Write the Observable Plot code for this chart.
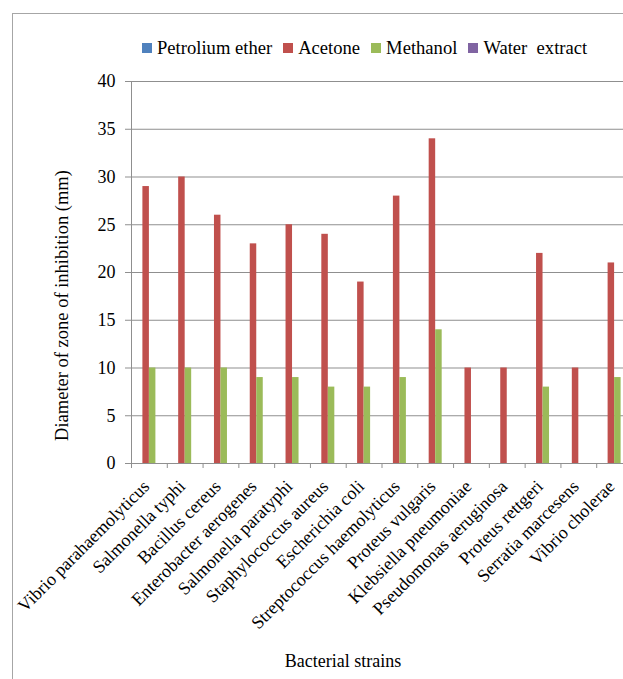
<!DOCTYPE html>
<html><head><meta charset="utf-8">
<script src="https://cdn.jsdelivr.net/npm/d3@7"></script>
<script src="https://cdn.jsdelivr.net/npm/@observablehq/plot@0.6"></script>
<style>
html,body{margin:0;padding:0;background:#fff;width:623px;height:679px;overflow:hidden;position:relative;}
#frame{position:absolute;left:12px;top:13px;width:800px;height:800px;border:1px solid #a6a6a6;}
#legend{position:absolute;left:142px;top:37px;display:flex;align-items:center;font-family:"Liberation Serif",serif;font-size:18.6px;color:#000;white-space:pre;}
.item{display:flex;align-items:center;margin-right:11px}
.sw{width:10px;height:10px;margin-right:5px}
#chart{position:absolute;left:0;top:0;width:680px}
#chart svg{max-width:none !important;}
#xtitle{position:absolute;left:0;width:686px;top:651px;text-align:center;font-family:"Liberation Serif",serif;font-size:18px;color:#000;}
</style></head><body>
<div id="frame"></div>
<div id="legend"></div>
<div id="chart"></div>
<div id="xtitle">Bacterial strains</div>
<script>
const strains = ["Vibrio parahaemolyticus","Salmonella typhi","Bacillus cereus","Enterobacter aerogenes","Salmonella paratyphi","Staphylococcus aureus","Escherichia coli","Streptococcus haemolyticus","Proteus vulgaris","Klebsiella pneumoniae","Pseudomonas aeruginosa","Proteus rettgeri","Serratia marcesens","Vibrio cholerae"];
const seriesNames = ["Petrolium ether","Acetone","Methanol","Water  extract"];
const petroleumEther = [0,0,0,0,0,0,0,0,0,0,0,0,0,0];
const acetone = [29,30,26,23,25,24,19,28,34,10,10,22,10,21];
const methanol = [10,10,10,9,9,8,8,9,14,0,0,8,0,9];
const waterExtract = [0,0,0,0,0,0,0,0,0,0,0,0,0,0];
const yTicks = [0,5,10,15,20,25,30,35,40];
const colors = ["#4F81BD","#C0504D","#9BBB59","#8064A2"];
const yLabel = "Diameter of zone of inhibition (mm)";

const values = [petroleumEther, acetone, methanol, waterExtract];

// legend
const leg = document.getElementById("legend");
seriesNames.forEach((s,i)=>{
  const it = document.createElement("div"); it.className="item";
  const sw = document.createElement("div"); sw.className="sw"; sw.style.background=colors[i];
  const tx = document.createElement("span"); tx.textContent = s;
  it.appendChild(sw); it.appendChild(tx); leg.appendChild(it);
});

const W = 680, H = 679, mL = 131, mR = 48, mT = 81, mB = 216;
const bw = (W - mL - mR) / strains.length;
const barW = 6.5;
const gap = (bw - 4 * barW) / 2;
const grey = "#8f8f8f";

const barMarks = values.map((vals, i) => Plot.barY(
  strains.map((c, j) => ({strain: c, value: vals[j]})),
  {x: "strain", y: "value", fill: colors[i],
   insetLeft: gap + barW * i, insetRight: bw - gap - barW * (i + 1)}
));

const chart = Plot.plot({
  width: W, height: H,
  marginLeft: mL, marginRight: mR, marginTop: mT, marginBottom: mB,
  style: {fontFamily: "'Liberation Serif', serif", fontSize: "18px", color: "#000", background: "transparent", maxWidth: "none"},
  x: {domain: strains, padding: 0, round: false, label: null},
  y: {domain: [0, 40], label: null},
  marks: [
    Plot.gridY(yTicks, {stroke: grey, strokeOpacity: 1}),
    ...barMarks,
    Plot.ruleY([0], {stroke: grey}),
    Plot.ruleX([strains[0]], {dx: -bw / 2, y1: 0, y2: 40, stroke: grey}),
    Plot.axisY({ticks: yTicks, tickSize: 6, tickPadding: 10, label: null, stroke: grey, fill: "#000", fontSize: 18}),
    Plot.axisX({tickSize: 5, tickFormat: () => "", dx: -bw / 2, label: null, stroke: grey}),
    Plot.axisX({tickSize: 0, tickRotate: -45, tickPadding: 20, dx: -3, label: null, fill: "#000", fontSize: 18}),
    Plot.text([yLabel], {text: d => d, frameAnchor: "left", textAnchor: "middle", rotate: -90, dx: -69, dy: 33, fontSize: 18.5, fill: "#000"})
  ]
});
document.getElementById("chart").appendChild(chart);
</script>
</body></html>
